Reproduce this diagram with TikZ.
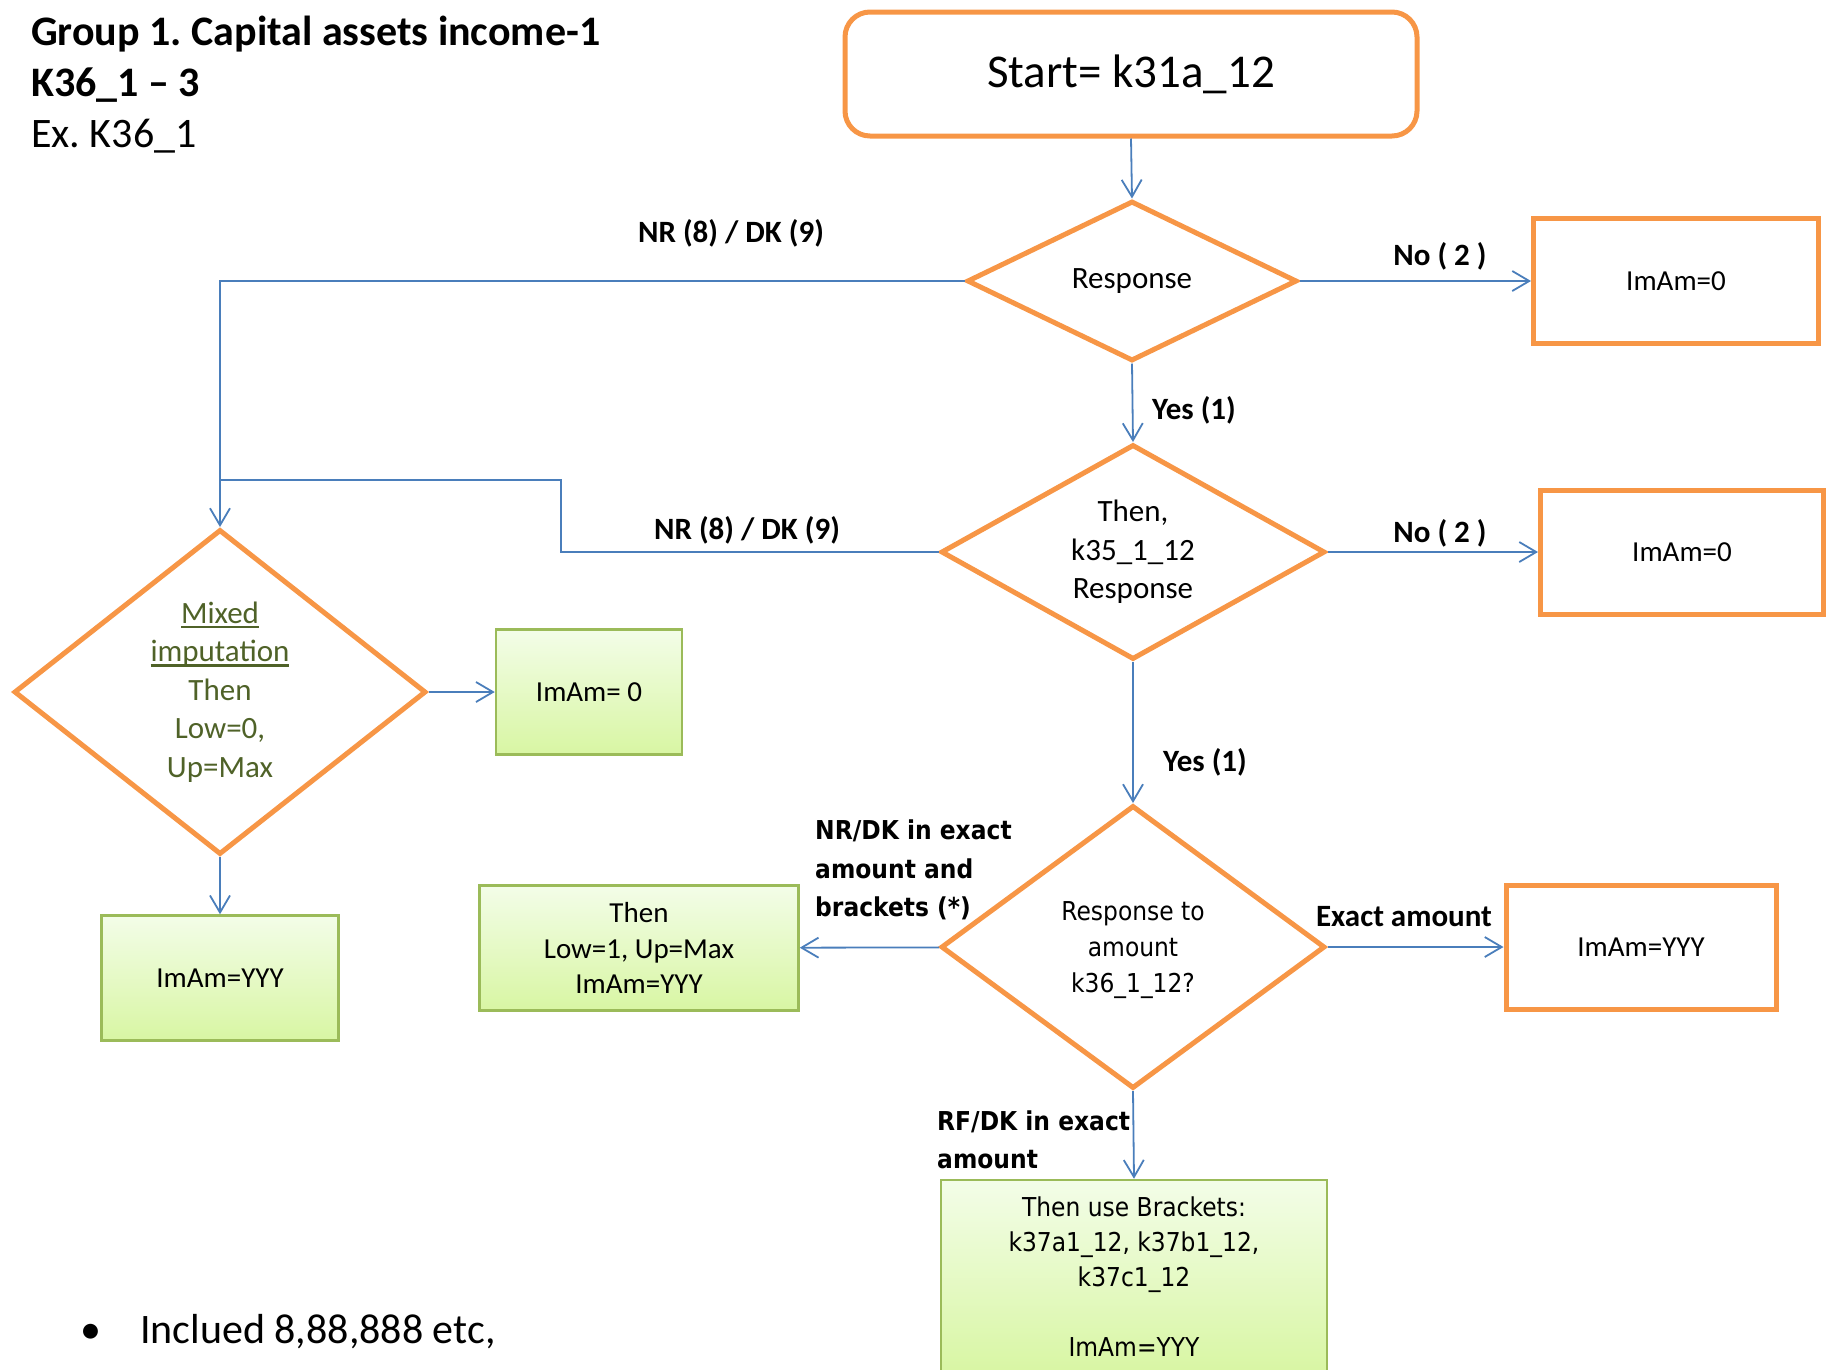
\documentclass[tikz,border=0pt]{standalone}
\usepackage{fontspec}
\setmainfont{Carlito}
\newfontfamily\tahoma[FakeStretch=0.9]{DejaVu Sans}
\usetikzlibrary{shapes.geometric,arrows.meta}
\frenchspacing

\definecolor{orng}{HTML}{F79646}
\definecolor{lblue}{HTML}{4A7EBB}
\definecolor{gbord}{HTML}{9BBB59}
\definecolor{gtop}{HTML}{F3FDE8}
\definecolor{gbot}{HTML}{D8F6A3}
\definecolor{olive}{HTML}{4F6228}

\newcommand{\ulthick}[1]{\setbox0\hbox{#1}\rlap{\raisebox{-5pt}{\rule{\wd0}{2.5pt}}}\box0}

\tikzstyle{decision}=[diamond, draw=orng, line width=5pt, inner sep=0pt, align=center, font=\fontsize{31}{38.5}\selectfont]
\tikzstyle{obox}=[rectangle, draw=orng, line width=5pt, align=center, font=\fontsize{29}{35.5}\selectfont]
\tikzstyle{gbox}=[rectangle, draw=gbord, line width=2.5pt, top color=gtop, bottom color=gbot, align=center, font=\fontsize{29}{35.5}\selectfont]
\tikzstyle{flow}=[draw=lblue, line width=1.8pt, -{Straight Barb[length=17pt,width=20pt]}]
\tikzstyle{line}=[draw=lblue, line width=1.8pt]
\tikzstyle{lbl}=[font=\bfseries\fontsize{31}{38}\selectfont, inner sep=0pt]
\tikzstyle{tlbl}=[font=\tahoma\bfseries\fontsize{26}{38.5}\selectfont, inner sep=0pt, align=left]

\begin{document}
\begin{tikzpicture}[x=1pt, y=-1pt]
\useasboundingbox (0,0) rectangle (1828,1369);

% title
\node[anchor=base west, inner sep=0pt, font=\bfseries\fontsize{42}{51}\selectfont](t1) at (31,45) {Group 1. Capital assets income-1};
\node[anchor=base west, inner sep=0pt, font=\bfseries\fontsize{42}{51}\selectfont](t2) at (31,96) {K36\_1 – 3};
\node[anchor=base west, inner sep=0pt, font=\fontsize{42}{51}\selectfont](t3) at (31,147) {Ex. K36\_1};

% main column
\node[rectangle, rounded corners=25pt, draw=orng, line width=5pt, minimum width=572pt, minimum height=124pt, font=\fontsize{47}{56}\selectfont](start) at (1131,74) {Start= k31a\_12};
\node[decision, minimum width=330pt, minimum height=160pt, aspect=2](resp) at (1132,281) {Response};
\node[decision, minimum width=384pt, minimum height=215pt, aspect=1.8](resp2) at (1133,552) {Then,\\k35\_1\_12\\Response};
\node[decision, minimum width=384pt, minimum height=283pt, aspect=1.35, font=\tahoma\fontsize{26}{36}\selectfont](amt) at (1133,947) {\\[-10pt]Response to\\amount\\k36\_1\_12?};
\node[gbox, minimum width=386pt, minimum height=194pt, font=\tahoma\fontsize{26}{35}\selectfont](brk) at (1134,1277) {Then use Brackets:\\k37a1\_12, k37b1\_12,\\k37c1\_12\\[35pt]ImAm=YYY};

% right column
\node[obox, minimum width=285pt, minimum height=125pt](noa) at (1676,281) {ImAm=0};
\node[obox, minimum width=283pt, minimum height=124pt](nob) at (1682,552) {ImAm=0};
\node[obox, minimum width=270pt, minimum height=124pt](yyyr) at (1641,947) {ImAm=YYY};

% left part
\node[decision, minimum width=412pt, minimum height=325pt, aspect=1.27, text=olive](mixed) at (220,692) {\color{olive}\ulthick{Mixed}\\\color{olive}\ulthick{imputation}\\Then\\Low=0,\\Up=Max};
\node[gbox, minimum width=186pt, minimum height=125pt](zero) at (589,692) {ImAm= 0};
\node[gbox, minimum width=237pt, minimum height=125pt](yyyl) at (220,978) {ImAm=YYY};
\node[gbox, minimum width=319pt, minimum height=125pt](low) at (639,948) {Then\\Low=1, Up=Max\\ImAm=YYY};

\coordinate (j) at (220,480);

% connectors
\draw[flow] (start.south) -- (resp.north);
\draw[flow] (resp) -- (noa);
\draw[flow] (resp.west) -| (mixed.north);
\draw[flow] (resp.south) -- (resp2.north);
\draw[line] (resp2.west) -| (561,480) -- (j);
\draw[flow] (resp2) -- (nob);
\draw[flow] (resp2.south) -- (amt.north);
\draw[flow] (amt) -- (low);
\draw[flow] (amt) -- (yyyr);
\draw[flow] (amt.south) -- (brk.north);
\draw[flow] (mixed) -- (zero);
\draw[flow] (mixed) -- (yyyl);

% labels
\node[lbl](nr1) at (731,233) {NR (8) / DK (9)};
\node[lbl](no1) at (1440,256) {No ( 2 )};
\node[lbl](yes1) at (1194,410) {Yes (1)};
\node[lbl](nr2) at (747,530) {NR (8) / DK (9)};
\node[lbl](no2) at (1440,533) {No ( 2 )};
\node[lbl](yes2) at (1205,762) {Yes (1)};
\node[tlbl, anchor=west](nrdk) at (815,870) {NR/DK in exact\\amount and\\brackets (*)};
\node[lbl](exact) at (1404,917) {Exact amount};
\node[tlbl, anchor=west](rfdk) at (937,1140) {RF/DK in exact\\amount};

% note
\node[anchor=base west, inner sep=0pt, font=\fontsize{42}{51}\selectfont](note) at (80,1343) {\makebox[60pt][l]{\textbullet}Inclued 8,88,888 etc,};
\end{tikzpicture}
\end{document}
